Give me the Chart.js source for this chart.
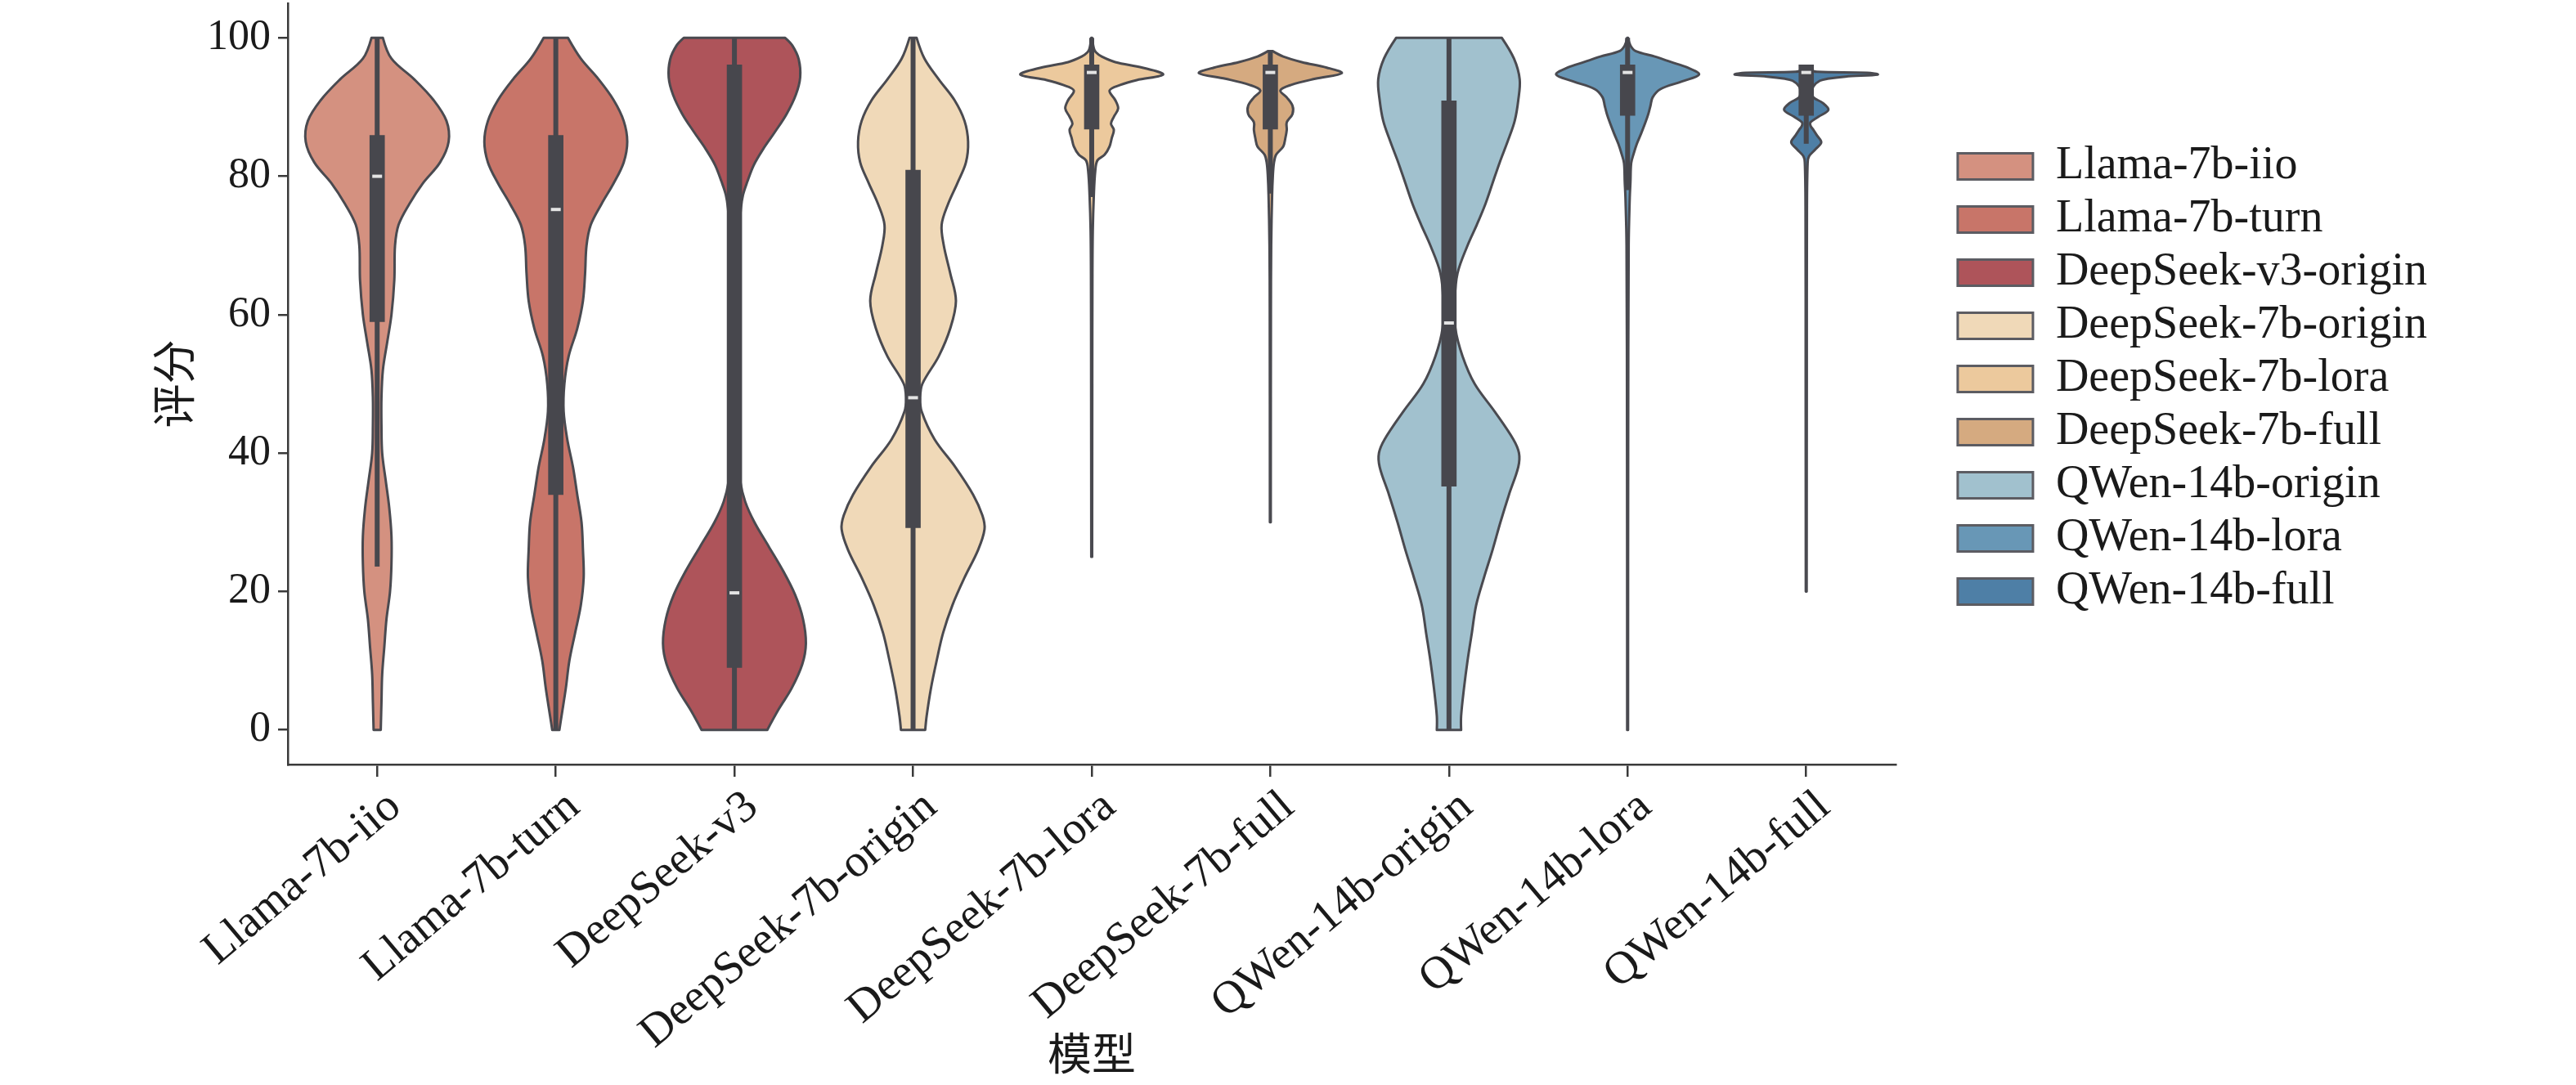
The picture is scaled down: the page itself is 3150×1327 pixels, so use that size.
<!DOCTYPE html>
<html>
<head>
<meta charset="utf-8">
<title>评分分布小提琴图</title>
<script src="https://cdn.jsdelivr.net/npm/chart.js@4.4.1/dist/chart.umd.min.js"></script>
<style>
    html, body { margin: 0; padding: 0; background: #ffffff; }
</style>
</head>
<body>
<canvas id="violinChart" width="3150" height="1327"></canvas>
<script>
// Score distribution per model (violin + inner box)

const xLabels = ['Llama-7b-iio', 'Llama-7b-turn', 'DeepSeek-v3', 'DeepSeek-7b-origin', 'DeepSeek-7b-lora',
    'DeepSeek-7b-full', 'QWen-14b-origin', 'QWen-14b-lora', 'QWen-14b-full'];
const legendNames = ['Llama-7b-iio', 'Llama-7b-turn', 'DeepSeek-v3-origin', 'DeepSeek-7b-origin', 'DeepSeek-7b-lora',
    'DeepSeek-7b-full', 'QWen-14b-origin', 'QWen-14b-lora', 'QWen-14b-full'];
const violinColors = ['#D49180', '#C87569', '#AE545A', '#F0D9B8', '#ECC99D', '#D5AA80', '#A1C1CE', '#6897B6', '#4E7FA6'];
const yTickValues = [0, 20, 40, 60, 80, 100];

// inner box stats
const q1 = [59, 34, 9, 29.2, 86.8, 86.8, 35.2, 88.8, 88.8];
const medians = [80, 75.2, 19.8, 48, 95, 95, 58.8, 95, 95];
const q3 = [85.9, 85.9, 96.1, 80.9, 96.1, 96.1, 90.9, 96.1, 96.1];
const whiskerLow = [23.6, 0, 0, 0, 77, 77.5, 0, 78, 84.7];
const whiskerHigh = [100, 100, 100, 100, 100, 98.1, 100, 100, 96.1];

// density outlines: [score, relative half width] (1 = widest)
const densityLlamaIio = [[0, 0.05], [4, 0.06], [8, 0.07], [12, 0.1], [16, 0.13], [20, 0.18], [24, 0.2], [28, 0.2],
    [32, 0.17], [36, 0.12], [40, 0.07], [44, 0.06], [48, 0.06], [52, 0.08], [56, 0.14], [60, 0.2], [65, 0.24],
    [70, 0.25], [73, 0.3], [76, 0.45], [79, 0.64], [82, 0.88], [85, 1.0], [88, 0.97], [91, 0.79], [94, 0.52],
    [97, 0.2], [100, 0.08]];
const densityLlamaTurn = [[0, 0.05], [2, 0.08], [6, 0.14], [10, 0.19], [14, 0.27], [18, 0.35], [22, 0.39], [26, 0.38],
    [30, 0.36], [34, 0.3], [38, 0.24], [42, 0.16], [46, 0.11], [50, 0.12], [54, 0.18], [58, 0.3], [62, 0.38],
    [66, 0.41], [70, 0.43], [73, 0.49], [76, 0.64], [79, 0.81], [82, 0.95], [85, 1.0], [88, 0.95], [91, 0.81],
    [94, 0.6], [97, 0.35], [100, 0.17]];
const densityDeepSeekV3 = [[0, 0.46], [3, 0.62], [6, 0.8], [9.5, 0.95], [12.5, 1.0], [16, 0.96], [19.5, 0.85],
    [23, 0.68], [26.5, 0.48], [30, 0.28], [33, 0.15], [36, 0.08], [40, 0.05], [50, 0.03], [60, 0.03], [70, 0.05],
    [75.3, 0.09], [77.3, 0.12], [79.2, 0.18], [81.6, 0.27], [83.9, 0.4], [86.3, 0.56], [89, 0.73], [91.8, 0.86],
    [94.3, 0.92], [96.9, 0.9], [98.9, 0.81], [100, 0.71]];
const densityDeepSeek7bOrigin = [[0, 0.17], [2, 0.19], [6, 0.25], [10, 0.33], [14, 0.42], [18, 0.55], [22, 0.72],
    [26, 0.91], [29, 1.0], [31, 0.97], [34, 0.84], [38, 0.59], [42, 0.3], [46, 0.12], [48, 0.1], [50, 0.13],
    [54, 0.36], [58, 0.52], [62, 0.6], [66, 0.52], [70, 0.43], [73, 0.4], [76, 0.49], [79, 0.62], [82, 0.74],
    [85, 0.77], [88, 0.72], [91, 0.58], [94, 0.36], [97, 0.16], [100, 0.05]];
const densityDeepSeek7bLora = [[25, 0.006], [50, 0.008], [65, 0.01], [72, 0.015], [77.3, 0.03], [80.8, 0.05],
    [82.3, 0.08], [83.1, 0.18], [84.3, 0.25], [85.5, 0.28], [86.7, 0.31], [87.6, 0.27], [88.6, 0.31], [89.8, 0.37],
    [91, 0.33], [92.4, 0.25], [93.2, 0.4], [93.9, 0.63], [94.7, 1.0], [95.7, 0.71], [96.5, 0.33], [97.3, 0.14],
    [97.9, 0.06], [98.5, 0.03], [100, 0.006]];
const densityDeepSeek7bFull = [[30, 0.006], [60, 0.008], [70, 0.012], [77.3, 0.025], [80, 0.035], [81.9, 0.05],
    [83.1, 0.08], [84.3, 0.18], [85.5, 0.21], [86.7, 0.23], [87.8, 0.23], [89, 0.31], [90.2, 0.31], [91.4, 0.23],
    [92.4, 0.14], [93.2, 0.29], [94.1, 0.63], [94.9, 1.0], [95.7, 0.79], [96.5, 0.44], [97.3, 0.18], [98.1, 0.03]];
const densityQWenOrigin = [[0, 0.17], [2, 0.17], [6, 0.21], [10, 0.26], [14, 0.32], [18, 0.38], [22, 0.49],
    [26, 0.61], [30, 0.72], [34, 0.84], [38, 0.97], [40, 0.98], [42, 0.9], [46, 0.64], [50, 0.36], [54, 0.19],
    [58, 0.09], [62, 0.08], [66, 0.12], [70, 0.26], [73, 0.39], [76, 0.51], [79, 0.61], [82, 0.71], [85, 0.82],
    [88, 0.92], [91, 0.97], [94, 0.99], [97, 0.91], [100, 0.74]];
const densityQWenLora = [[0, 0.006], [40, 0.008], [70, 0.015], [76.9, 0.03], [79.2, 0.04], [81.9, 0.05],
    [83.1, 0.08], [84.7, 0.13], [86.2, 0.19], [87.8, 0.25], [89, 0.29], [90.2, 0.32], [91.4, 0.35], [92.6, 0.46],
    [93.7, 0.76], [94.7, 1.0], [95.7, 0.84], [96.5, 0.61], [97.3, 0.38], [98.1, 0.11], [98.9, 0.04], [100, 0.006]];
const densityQWenFull = [[20, 0.006], [50, 0.008], [75, 0.01], [82, 0.02], [82.9, 0.04], [83.9, 0.13], [84.9, 0.21],
    [85.9, 0.15], [86.7, 0.1], [87.3, 0.06], [87.8, 0.06], [88.6, 0.17], [89.6, 0.31], [90.6, 0.23], [91.4, 0.1],
    [92.2, 0.08], [93, 0.1], [93.8, 0.19], [94.1, 0.3], [94.4, 0.55], [94.7, 1.0], [94.95, 0.85], [95.1, 0.15],
    [95.4, 0.03]];

const densities = [densityLlamaIio, densityLlamaTurn, densityDeepSeekV3, densityDeepSeek7bOrigin,
    densityDeepSeek7bLora, densityDeepSeek7bFull, densityQWenOrigin, densityQWenLora, densityQWenFull];

const FONT = "'Liberation Serif', 'Noto Sans CJK SC', serif";
const INK = '#1a1a1a';
const AXIS = '#3a3a3a';
const OUTLINE = '#4a4a50';
const BOX = '#47474d';

// control points the same way Chart.js does for tension curves
function controlPoints(p0, p1, p2, t) {
    const d01 = Math.hypot(p1.x - p0.x, p1.y - p0.y);
    const d12 = Math.hypot(p2.x - p1.x, p2.y - p1.y);
    const s01 = d01 / (d01 + d12) || 0;
    const s12 = d12 / (d01 + d12) || 0;
    return {
        prev: { x: p1.x - t * s01 * (p2.x - p0.x), y: p1.y - t * s01 * (p2.y - p0.y) },
        next: { x: p1.x + t * s12 * (p2.x - p0.x), y: p1.y + t * s12 * (p2.y - p0.y) }
    };
}

function traceCurve(ctx, pts) {
    const cps = pts.map((p, i) => {
        if (i === 0 || i === pts.length - 1) return { prev: p, next: p };
        return controlPoints(pts[i - 1], p, pts[i + 1], 0.35);
    });
    for (let i = 1; i < pts.length; i++) {
        const a = cps[i - 1].next;
        const b = cps[i].prev;
        ctx.bezierCurveTo(a.x, a.y, b.x, b.y, pts[i].x, pts[i].y);
    }
}

const violinPlugin = {
    id: 'violins',
    afterLayout(chart) {
        // legend: a bit away from the plot, centred on the plot height
        const lg = chart.legend;
        const area = chart.chartArea;
        const dy = (area.top + area.bottom) / 2 - 6 - (lg.top + lg.bottom) / 2;
        lg.left += 67;
        lg.right += 67;
        lg.top += dy;
        lg.bottom += dy;
    },
    beforeDatasetsDraw(chart) {
        const { ctx, scales: { x, y } } = chart;
        const maxHalf = (x.getPixelForValue(1) - x.getPixelForValue(0)) * 0.4;
        ctx.save();
        densities.forEach((dens, i) => {
            const cx = x.getPixelForValue(i);
            const right = dens.map(([v, w]) => ({ x: cx + w * maxHalf, y: y.getPixelForValue(v) }));
            const left = dens.map(([v, w]) => ({ x: cx - w * maxHalf, y: y.getPixelForValue(v) })).reverse();
            ctx.beginPath();
            ctx.moveTo(right[0].x, right[0].y);
            traceCurve(ctx, right);
            ctx.lineTo(left[0].x, left[0].y);
            traceCurve(ctx, left);
            ctx.closePath();
            ctx.fillStyle = violinColors[i];
            ctx.fill();
            ctx.lineWidth = 3;
            ctx.lineJoin = 'round';
            ctx.strokeStyle = OUTLINE;
            ctx.stroke();

            // whisker
            const yTop = y.getPixelForValue(whiskerHigh[i]);
            const yBot = y.getPixelForValue(whiskerLow[i]);
            ctx.fillStyle = BOX;
            ctx.fillRect(cx - 3, yTop, 6, yBot - yTop);
        });
        ctx.restore();
    },
    afterDatasetsDraw(chart) {
        const { ctx, scales: { x, y } } = chart;
        ctx.save();
        ctx.fillStyle = '#e4e4e4';
        medians.forEach((m, i) => {
            const cx = x.getPixelForValue(i);
            const ym = y.getPixelForValue(m);
            ctx.fillRect(cx - 6, ym - 2, 12, 4);
        });
        ctx.restore();
    }
};

// one floating bar per model = the inner box (q1..q3)
const datasets = legendNames.map((name, i) => ({
    label: name,
    data: xLabels.map((_, j) => (j === i ? [q1[i], q3[i]] : null)),
    backgroundColor: BOX,
    borderWidth: 0,
    barThickness: 18,
    grouped: false,
    skipNull: true
}));

document.addEventListener('DOMContentLoaded', () => {
    const ctx = document.getElementById('violinChart').getContext('2d');

    new Chart(ctx, {
        type: 'bar',
        data: { labels: xLabels, datasets },
        options: {
            responsive: false,
            animation: false,
            devicePixelRatio: 1,
            layout: { padding: { left: 176, right: 239, top: 4, bottom: 0 } },
            plugins: {
                tooltip: { enabled: false },
                legend: {
                    position: 'right',
                    labels: {
                        boxWidth: 92,
                        boxHeight: 32,
                        padding: 9,
                        color: INK,
                        font: { family: FONT, size: 56 },
                        generateLabels: () => legendNames.map((name, i) => ({
                            text: name,
                            fillStyle: violinColors[i],
                            strokeStyle: '#5c5c62',
                            lineWidth: 3,
                            fontColor: INK,
                            hidden: false,
                            datasetIndex: i
                        }))
                    }
                }
            },
            scales: {
                x: {
                    offset: true,
                    grid: { drawOnChartArea: false, drawTicks: true, tickLength: 15, offset: false, color: AXIS, lineWidth: 2.5 },
                    border: { display: true, color: AXIS, width: 2.5 },
                    ticks: {
                        autoSkip: false, minRotation: 40, maxRotation: 40, padding: 4, labelOffset: 22,
                        color: INK, font: { family: FONT, size: 56 }
                    },
                    title: { display: true, text: '模型', color: INK, font: { family: FONT, size: 54 }, padding: { top: 0, bottom: 0 } },
                    afterFit(scale) { scale.height = 392; }
                },
                y: {
                    min: -5,
                    max: 105,
                    afterBuildTicks(scale) { scale.ticks = yTickValues.map(v => ({ value: v })); },
                    grid: { drawOnChartArea: false, drawTicks: true, tickLength: 12, color: AXIS, lineWidth: 2.5 },
                    border: { display: true, color: AXIS, width: 2.5 },
                    ticks: { padding: 9, color: INK, font: { family: FONT, size: 52 } },
                    title: { display: true, text: '评分', color: INK, font: { family: FONT, size: 54 }, padding: { top: 10, bottom: 0 } },
                    afterFit(scale) {
                        scale.width = 176;
                        scale.paddingTop = 0;
                        scale.paddingBottom = 0;
                    }
                }
            }
        },
        plugins: [violinPlugin]
    });
});
</script>
</body>
</html>
